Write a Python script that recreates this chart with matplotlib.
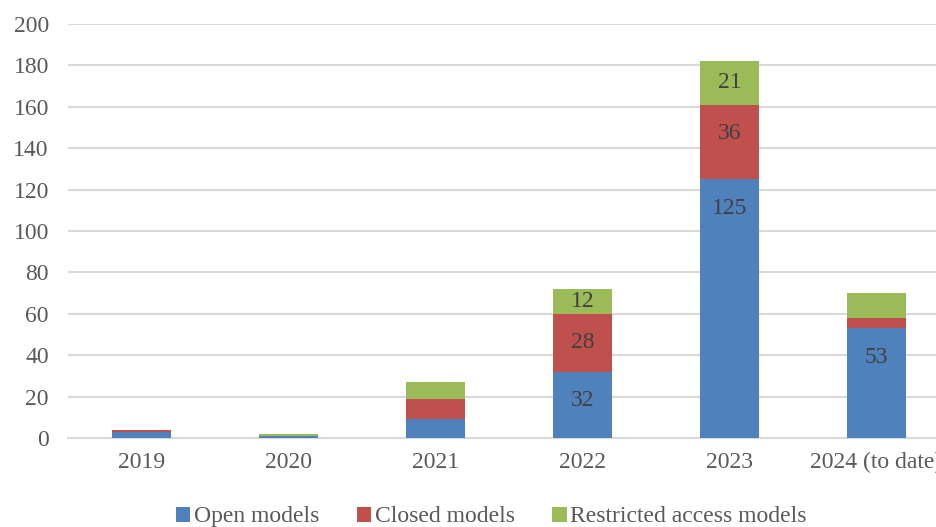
import matplotlib
matplotlib.use("Agg")
import matplotlib.pyplot as plt
import numpy as np

years = ["2019", "2020", "2021", "2022", "2023", "2024 (to date)"]
open_models = [3, 1, 9, 32, 125, 53]
closed_models = [1, 0, 10, 28, 36, 5]
restricted_models = [0, 1, 8, 12, 21, 12]
series_names = ["Open models", "Closed models", "Restricted access models"]
# which segments carry a data label
show_open = [False, False, False, True, True, True]
show_closed = [False, False, False, True, True, False]
show_restricted = [False, False, False, True, True, False]
y_ticks = [0, 20, 40, 60, 80, 100, 120, 140, 160, 180, 200]

colors = ["#4F81BD", "#C0504D", "#9BBB59"]
plt.rcParams["font.family"] = ["Liberation Serif", "DejaVu Serif"]

fig = plt.figure(figsize=(9.36, 5.27), dpi=100)
ax = fig.add_axes([0.073, 0.1689, 0.942, 0.7856])

x = np.arange(len(years))
w = 0.40
series = [open_models, closed_models, restricted_models]
shows = [show_open, show_closed, show_restricted]
bottom = np.zeros(len(years))
inside_end = 14.0  # distance of label centre below segment top (data units)
for vals, name, c, show in zip(series, series_names, colors, shows):
    vals = np.array(vals, dtype=float)
    ax.bar(x, vals, w, bottom=bottom, color=c, label=name, zorder=3)
    for xi, b, v, s in zip(x, bottom, vals, show):
        if s:
            ly = max(b + v - inside_end, b + v / 2)
            ax.text(xi, ly, str(int(v)), ha="center", va="center",
                    fontsize=17, color="#404040", zorder=4)
    bottom += vals

ax.set_xlim(-0.5, len(years) - 0.5)
ax.set_ylim(0, 200)
ax.set_yticks(y_ticks)
ax.set_xticks(x)
ax.set_xticklabels(years)
ax.yaxis.grid(True, color="#D9D9D9", linewidth=1.5, zorder=0)
ax.set_axisbelow(True)
for s in ["top", "right", "left"]:
    ax.spines[s].set_visible(False)
ax.spines["bottom"].set_color("#D9D9D9")
ax.spines["bottom"].set_linewidth(1.5)
ax.tick_params(axis="both", length=0, labelsize=17, colors="#595959")
ax.tick_params(axis="y", pad=14)
ax.tick_params(axis="x", pad=10)

fig.legend(loc="center", bbox_to_anchor=(0.525, 0.019), ncol=3, frameon=False,
           fontsize=17, handlelength=0.6, handleheight=0.6, handletextpad=0.15,
           columnspacing=1.6, labelcolor="#595959")

fig.savefig("out.png", dpi=100)
